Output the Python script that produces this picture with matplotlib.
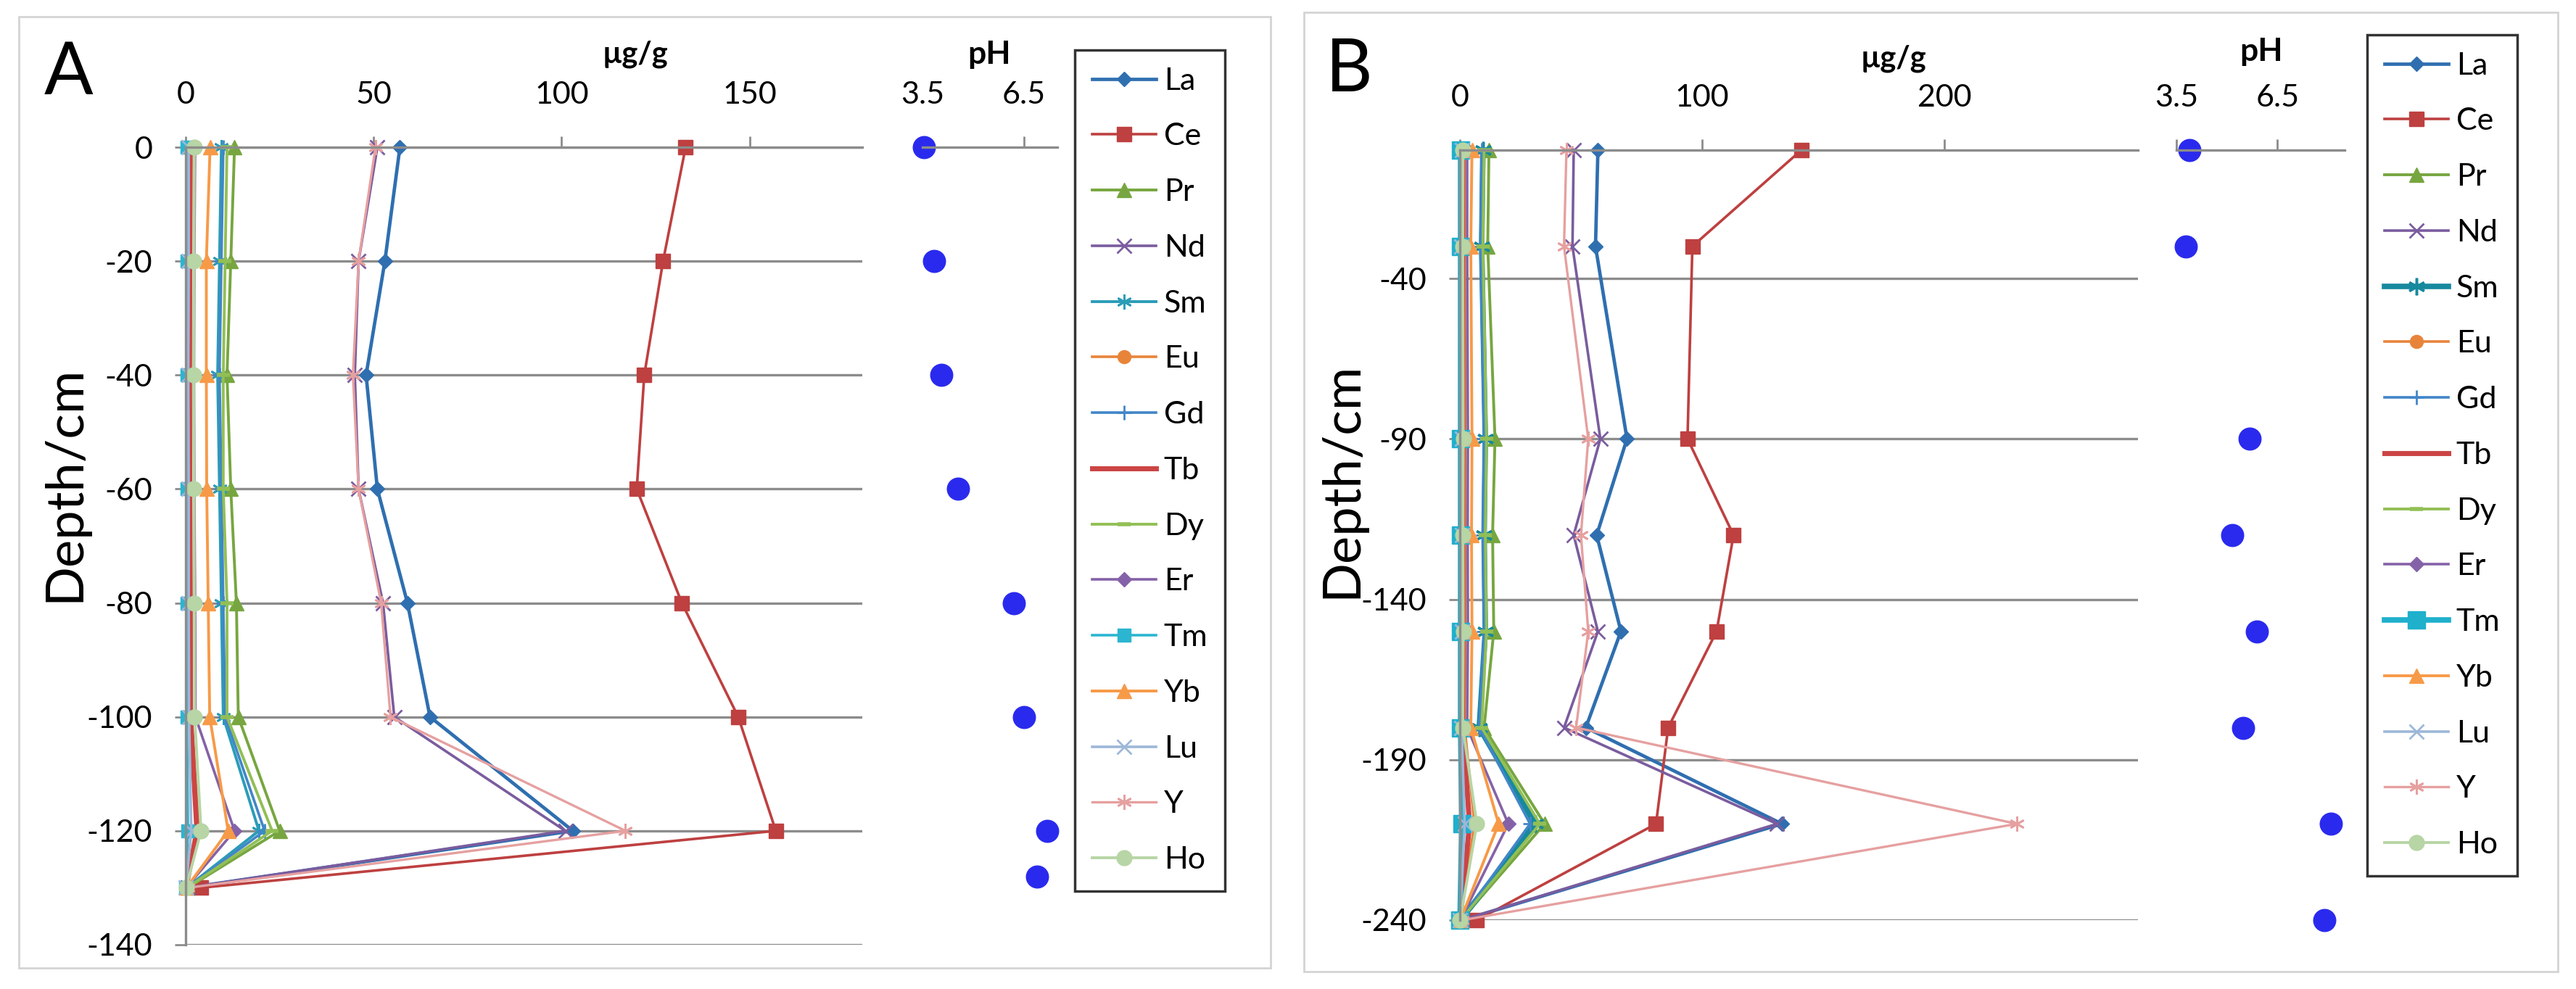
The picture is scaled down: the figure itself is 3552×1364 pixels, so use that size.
import matplotlib.pyplot as plt
from matplotlib.lines import Line2D
from matplotlib.patches import Rectangle

plt.rcParams['font.family'] = ['Lato', 'DejaVu Sans']
plt.rcParams['axes.unicode_minus'] = False

W, H = 3552, 1364

elements = ['La', 'Ce', 'Pr', 'Nd', 'Sm', 'Eu', 'Gd', 'Tb', 'Dy', 'Er', 'Tm', 'Yb', 'Lu', 'Y', 'Ho']

# ---- panel A: depth profile (cm) and REE content (ug/g)
depth_a = [0, -20, -40, -60, -80, -100, -120, -130]
la_a = [57, 53, 48, 51, 59, 65, 103, 0.5]
ce_a = [133, 127, 122, 120, 132, 147, 157, 4]
pr_a = [13, 12, 11, 12, 13.5, 14, 25, 0.5]
nd_a = [51, 46, 45, 46, 52.5, 55.5, 101, 0.5]
sm_a = [9.5, 9, 8.5, 9, 9.5, 10, 19.5, 0.2]
eu_a = [1.5, 1.4, 1.3, 1.4, 1.5, 1.6, 3.5, 0.1]
gd_a = [10, 9.5, 9, 9.5, 10, 10.5, 21, 0.2]
tb_a = [1.2, 1.1, 1.0, 1.1, 1.2, 1.3, 3.0, 0.1]
dy_a = [11, 10.5, 10, 10, 11, 11, 23, 0.3]
er_a = [2.5, 2.3, 2.2, 2.3, 2.5, 2.6, 13, 0.1]
tm_a = [0.3, 0.3, 0.3, 0.3, 0.3, 0.3, 0.6, 0.05]
yb_a = [6.5, 5.5, 5.5, 5.6, 6, 6.4, 11.3, 0.2]
lu_a = [0.8, 0.8, 0.7, 0.8, 0.8, 0.9, 1.5, 0.05]
y_a = [50.5, 46, 44.5, 46, 52, 54.5, 117, 0.5]
ho_a = [2.3, 2.2, 2.1, 2.2, 2.3, 2.4, 4.1, 0.1]
ph_depth_a = [0, -20, -40, -60, -80, -100, -120, -128]
ph_a = [3.55, 3.85, 4.05, 4.55, 6.2, 6.5, 7.2, 6.9]

# ---- panel B
depth_b = [0, -30, -90, -120, -150, -180, -210, -240]
la_b = [57, 56, 69, 56.5, 66.5, 52, 133, 1]
ce_b = [141, 96, 94, 113, 106, 86, 81, 7]
pr_b = [12, 11.5, 14.5, 13.5, 14, 10, 35, 0.5]
nd_b = [47, 46.5, 58, 47, 57, 43, 131, 0.8]
sm_b = [9.5, 9, 10.5, 10, 10.5, 8, 31, 0.3]
eu_b = [2, 2, 2.3, 2.2, 2.3, 2, 6, 0.1]
gd_b = [9, 8.5, 10, 9.5, 10, 8, 29, 0.3]
tb_b = [1.2, 1.1, 1.3, 1.2, 1.3, 1.1, 4, 0.1]
dy_b = [10, 9.5, 11, 10.5, 11, 9, 33, 0.3]
er_b = [3, 3, 3.3, 3.2, 3.3, 3, 20, 0.2]
tm_b = [0.3, 0.3, 0.3, 0.3, 0.3, 0.3, 0.8, 0.05]
yb_b = [5, 4.5, 5, 4.8, 5, 4.5, 16, 0.2]
lu_b = [0.8, 0.7, 0.8, 0.8, 0.8, 0.7, 2, 0.05]
y_b = [44, 43, 53, 50, 53, 48, 230, 1]
ho_b = [1.3, 1.2, 1.4, 1.3, 1.4, 1.2, 7, 0.1]
ph_depth_b = [0, -30, -90, -120, -150, -180, -210, -240]
ph_b = [3.88, 3.78, 5.67, 5.17, 5.89, 5.49, 8.09, 7.9]

series_a = [la_a, ce_a, pr_a, nd_a, sm_a, eu_a, gd_a, tb_a, dy_a, er_a, tm_a, yb_a, lu_a, y_a, ho_a]
series_b = [la_b, ce_b, pr_b, nd_b, sm_b, eu_b, gd_b, tb_b, dy_b, er_b, tm_b, yb_b, lu_b, y_b, ho_b]

# Excel-like line/marker style per element
STAR = (6, 2, 0)
styles = {
    'La': dict(color='#2F6FB0', marker='D', ms=10, lw=3.4),
    'Ce': dict(color='#BE4040', marker='s', ms=15, lw=2.6),
    'Pr': dict(color='#77A640', marker='^', ms=15, lw=2.8),
    'Nd': dict(color='#7A5C9E', marker='x', ms=14, lw=2.6, mew=2),
    'Sm': dict(color='#2B9CB8', marker=STAR, ms=15, lw=2.8, mew=2),
    'Eu': dict(color='#E8843A', marker='o', ms=13, lw=2.6),
    'Gd': dict(color='#4286C8', marker='+', ms=15, lw=2.6, mew=2),
    'Tb': dict(color='#CC4444', marker='None', lw=5),
    'Dy': dict(color='#92BF55', marker='_', ms=13, lw=2.8, mew=4),
    'Er': dict(color='#8562A8', marker='D', ms=10, lw=2.6),
    'Tm': dict(color='#2BB5D0', marker='s', ms=13, lw=2.6),
    'Yb': dict(color='#F79A48', marker='^', ms=15, lw=2.8),
    'Lu': dict(color='#9DB7D8', marker='x', ms=14, lw=2.6, mew=2),
    'Y': dict(color='#E6A0A0', marker=STAR, ms=15, lw=2.4, mew=2),
    'Ho': dict(color='#B7D5A5', marker='o', ms=15, lw=2.8),
}
# panel B draws Sm and Tm with heavy lines
styles_b = dict(styles)
styles_b['Sm'] = dict(color='#17899E', marker=STAR, ms=17, lw=5.5, mew=2.5)
styles_b['Tm'] = dict(color='#1FB0CC', marker='s', ms=17, lw=5.5)

GRID = '#8C8C8C'
PH_BLUE = '#2A2AEE'
FS = 31


def box(l, t, r, b):
    return [l / W, 1 - b / H, (r - l) / W, (b - t) / H]


def setup_main(ax, xmax, xticks, ymin, yticks):
    ax.set_xlim(0, xmax)
    ax.set_ylim(ymin, 0)
    ax.xaxis.tick_top()
    ax.set_xticks(xticks)
    ax.set_yticks(yticks)
    ax.spines['right'].set_visible(False)
    ax.spines['bottom'].set_visible(False)
    for s in ['left', 'top']:
        ax.spines[s].set_color(GRID)
        ax.spines[s].set_linewidth(2.4)
    ax.yaxis.grid(True, color=GRID, lw=2.4)
    ax.set_axisbelow(True)
    ax.tick_params(axis='x', direction='out', length=11, width=2, color=GRID,
                   labelsize=FS, pad=27)
    ax.tick_params(axis='y', direction='out', length=11, width=2, color=GRID,
                   labelsize=FS, pad=22)
    ax.patch.set_visible(False)


def setup_ph(ax, xmax, ymin):
    ax.set_xlim(3.5, xmax)
    ax.set_ylim(ymin, 0)
    ax.xaxis.tick_top()
    ax.set_xticks([3.5, 6.5])
    ax.set_yticks([])
    for s in ['left', 'right', 'bottom']:
        ax.spines[s].set_visible(False)
    ax.spines['top'].set_color(GRID)
    ax.spines['top'].set_linewidth(2.4)
    ax.tick_params(axis='x', direction='out', length=11, width=2, color=GRID,
                   labelsize=FS, pad=27)
    ax.patch.set_visible(False)


def draw_panel(fig, ax, ax_ph, depth, series, st, ph_depth, ph, leg_xy, letter, letter_xy,
               ug_xy, ph_xy, depth_xy):
    for name, vals in zip(elements, series):
        ax.plot(vals, depth, clip_on=False, **st[name])
    ax_ph.plot(ph, ph_depth, 'o', color=PH_BLUE, ms=22, clip_on=False)

    handles = [Line2D([], [], **st[n]) for n in elements]
    leg = fig.legend(handles, elements, loc='upper left',
                     bbox_to_anchor=(leg_xy[0] / W, 1 - leg_xy[1] / H),
                     bbox_transform=fig.transFigure, fontsize=FS, frameon=True,
                     fancybox=False, edgecolor='black', labelspacing=0.9,
                     handlelength=2.05, handletextpad=0.25, borderpad=0.55,
                     borderaxespad=0)
    leg.get_frame().set_linewidth(2.5)

    fig.text(letter_xy[0] / W, 1 - letter_xy[1] / H, letter, fontsize=72, ha='left',
             va='baseline')
    fig.text(ug_xy[0] / W, 1 - ug_xy[1] / H, 'µg/g', fontsize=30, fontweight='bold',
             ha='center', va='baseline')
    fig.text(ph_xy[0] / W, 1 - ph_xy[1] / H, 'pH', fontsize=32, fontweight='bold',
             ha='center', va='baseline')
    fig.text(depth_xy[0] / W, 1 - depth_xy[1] / H, 'Depth/cm', fontsize=52,
             rotation=90, ha='center', va='center')


fig = plt.figure(figsize=(W / 100, H / 100), dpi=100)

# light panel frames
for l, t, r, b in [(26, 23, 1752, 1335), (1798, 17, 3527, 1340)]:
    fig.add_artist(Rectangle((l / W, 1 - b / H), (r - l) / W, (b - t) / H,
                             transform=fig.transFigure, fill=False,
                             edgecolor='#D4D4D4', lw=2))

# panel A
ax_a = fig.add_axes(box(256, 203, 1189, 1303))
setup_main(ax_a, 180, [0, 50, 100, 150], -140, list(range(0, -141, -20)))
ph_ax_a = fig.add_axes(box(1272, 203, 1458, 1303))
setup_ph(ph_ax_a, 7.5, -140)
draw_panel(fig, ax_a, ph_ax_a, depth_a, series_a, styles, ph_depth_a, ph_a,
           (1482, 69), 'A', (61, 130), (876, 86), (1364, 88), (89, 667))

# panel B
ax_b = fig.add_axes(box(2013, 207, 2948, 1269))
setup_main(ax_b, 280, [0, 100, 200], -240, [-40, -90, -140, -190, -240])
ph_ax_b = fig.add_axes(box(3001, 207, 3233, 1269))
setup_ph(ph_ax_b, 8.5, -240)
draw_panel(fig, ax_b, ph_ax_b, depth_b, series_b, styles_b, ph_depth_b, ph_b,
           (3264, 48), 'B', (1828, 126), (2611, 92), (3118, 84), (1850, 662))

fig.savefig('out.png', dpi=100)
